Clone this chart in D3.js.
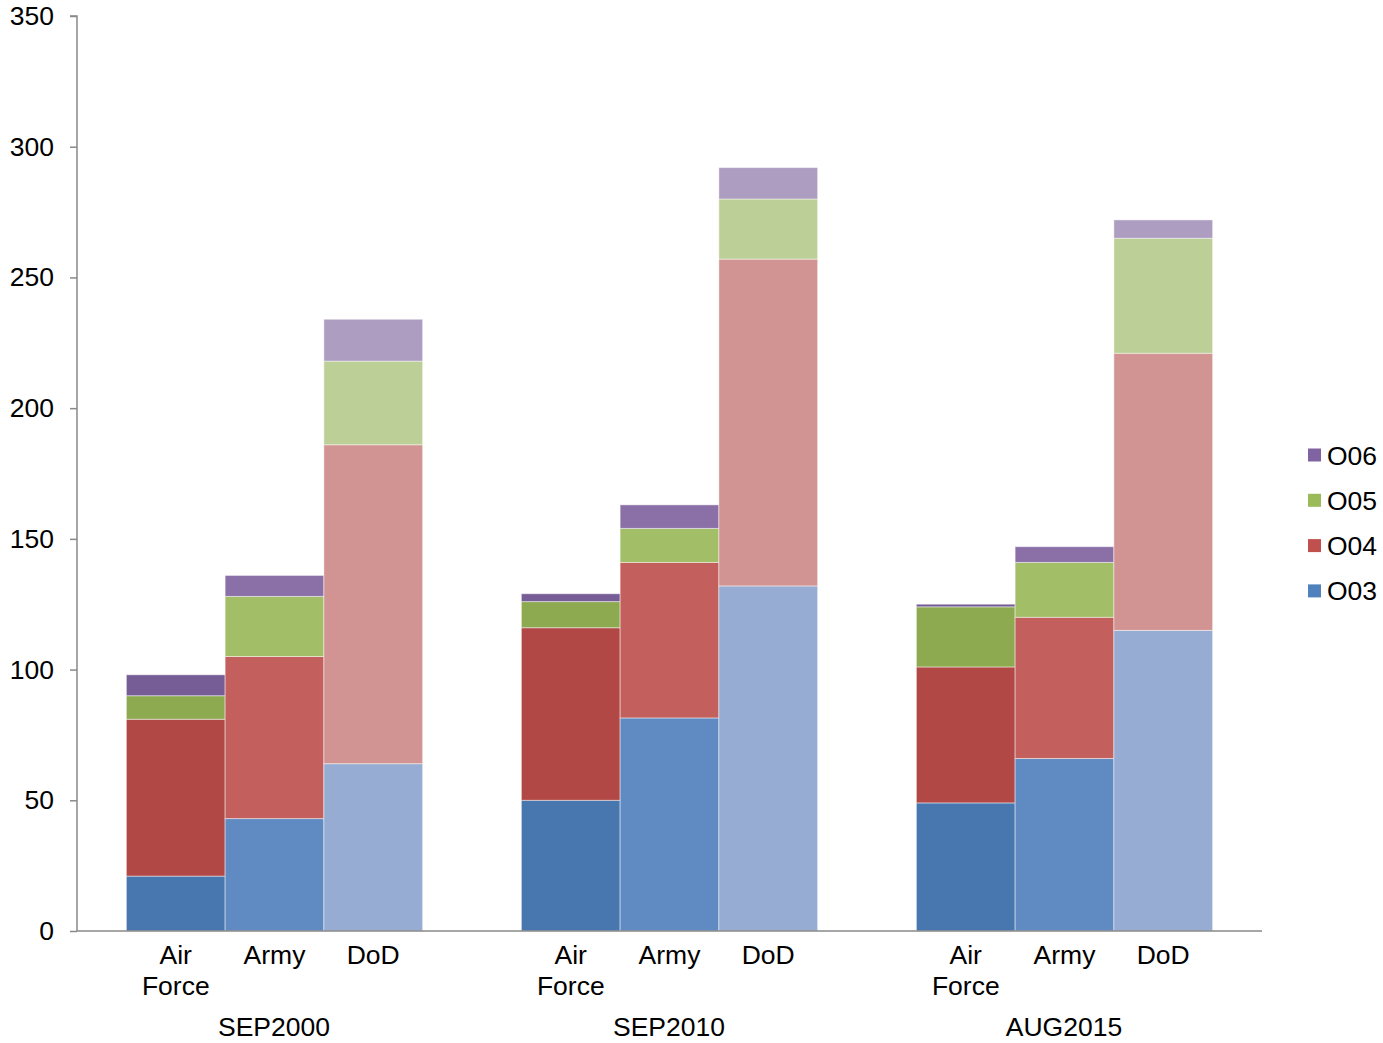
<!DOCTYPE html>
<html><head><meta charset="utf-8">
<script src="https://cdn.jsdelivr.net/npm/d3@7"></script>
<style>body{margin:0;background:#fff}svg{display:block}text{font-family:"Liberation Sans",Arial,sans-serif;fill:#000}</style>
</head><body>
<svg id="c" width="1383" height="1043"></svg>
<script>
const groups = ["SEP2000", "SEP2010", "AUG2015"];
const categories = ["Air Force", "Army", "DoD"];
const seriesNames = ["O03", "O04", "O05", "O06"];
// values per bar in order: group x category
const O03 = [21, 43, 64, 50, 81.5, 132, 49, 66, 115];
const O04 = [60, 62, 122, 66, 59.5, 125, 52, 54, 106];
const O05 = [9, 23, 32, 10, 13, 23, 23, 21, 44];
const O06 = [8, 8, 16, 3, 9, 12, 1, 6, 7];
const yTicks = [0, 50, 100, 150, 200, 250, 300, 350];

const seriesVals = [O03, O04, O05, O06];
const legendColors = {O03:"#4F81BD", O04:"#C0504D", O05:"#9BBB59", O06:"#8064A2"};
const shade = {
  O03: ["#4877AF", "#5F8AC2", "#97ACD2"],
  O04: ["#B24845", "#C3605D", "#D19493"],
  O05: ["#8EAA51", "#A2BE66", "#BBCF97"],
  O06: ["#775D96", "#8A70A7", "#AD9DC0"]
};
const FS = "26.5px";

const svg = d3.select("#c");
const L = 77, R = 1262, T = 16, B = 931;
const y = d3.scaleLinear().domain([0, 350]).range([B, T]);
const xg = d3.scaleBand().domain(groups).range([L, R]).padding(0);
const xc = d3.scaleBand().domain(categories).range([0, xg.bandwidth()]).paddingInner(0).paddingOuter(0.5);

const bars = [];
groups.forEach((g, gi) => categories.forEach((c, ci) => {
  let acc = 0;
  seriesNames.forEach((s, si) => {
    const v = seriesVals[si][gi * 3 + ci];
    bars.push({g, c, ci, s, y0: acc, y1: acc + v});
    acc += v;
  });
}));

svg.append("g").selectAll("rect").data(bars).join("rect")
  .attr("x", d => xg(d.g) + xc(d.c))
  .attr("width", xc.bandwidth())
  .attr("y", d => y(d.y1))
  .attr("height", d => y(d.y0) - y(d.y1))
  .attr("fill", d => shade[d.s][d.ci])
  .attr("stroke", "rgba(255,255,255,0.45)")
  .attr("stroke-width", 1);

// y axis
const yAxis = d3.axisLeft(y).tickValues(yTicks).tickSize(7).tickPadding(16).tickFormat(d3.format("d"));
const ya = svg.append("g").attr("transform", `translate(${L},0)`).call(yAxis);
ya.select(".domain").attr("stroke", "#898989").attr("stroke-width", 1.5).attr("d", `M-7,${T}H0V${B}`);
ya.selectAll(".tick line").attr("stroke", "#898989").attr("stroke-width", 1.5);
ya.selectAll(".tick text").style("font-size", FS).style("font-family", '"Liberation Sans",Arial,sans-serif').attr("fill", "#000");

// x axis line
svg.append("line").attr("x1", L).attr("x2", R).attr("y1", B).attr("y2", B)
  .attr("stroke", "#898989").attr("stroke-width", 1.5);

// category labels
const lab = svg.append("g");
groups.forEach(g => categories.forEach(c => {
  const cx = xg(g) + xc(c) + xc.bandwidth() / 2;
  const words = c.split(" ");
  words.forEach((w, i) => {
    lab.append("text").attr("x", cx).attr("y", 964 + i * 31).attr("text-anchor", "middle")
      .style("font-size", FS).text(w);
  });
}));
groups.forEach(g => {
  lab.append("text").attr("x", xg(g) + xg.bandwidth() / 2 - 0.5).attr("y", 1036).attr("text-anchor", "middle")
    .style("font-size", FS).text(g);
});

// legend
const legOrder = ["O06", "O05", "O04", "O03"];
const lg = svg.append("g");
legOrder.forEach((s, i) => {
  const cy = 455 + i * 45.3;
  lg.append("rect").attr("x", 1308).attr("y", cy - 6.5).attr("width", 13).attr("height", 13).attr("fill", legendColors[s]);
  lg.append("text").attr("x", 1327).attr("y", cy + 9.5).style("font-size", FS).text(s);
});
</script>
</body></html>
